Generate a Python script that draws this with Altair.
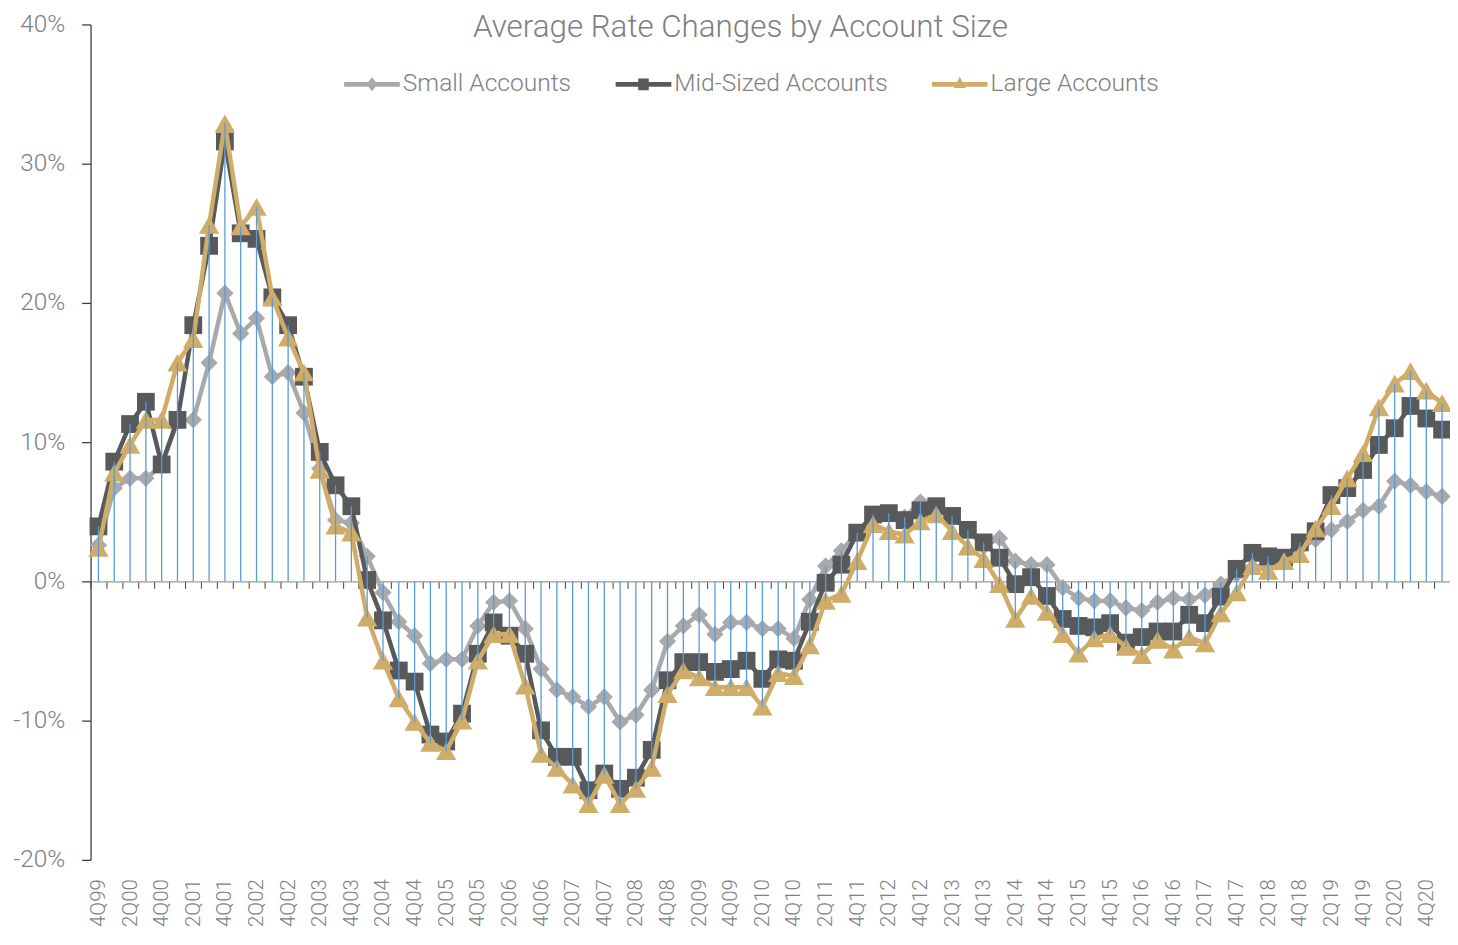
import altair as alt
import pandas as pd

quarters = ["4Q99", "1Q00", "2Q00", "3Q00", "4Q00", "1Q01", "2Q01", "3Q01", "4Q01",
            "1Q02", "2Q02", "3Q02", "4Q02", "1Q03", "2Q03", "3Q03", "4Q03",
            "1Q04", "2Q04", "3Q04", "4Q04", "1Q05", "2Q05", "3Q05", "4Q05",
            "1Q06", "2Q06", "3Q06", "4Q06", "1Q07", "2Q07", "3Q07", "4Q07",
            "1Q08", "2Q08", "3Q08", "4Q08", "1Q09", "2Q09", "3Q09", "4Q09",
            "1Q10", "2Q10", "3Q10", "4Q10", "1Q11", "2Q11", "3Q11", "4Q11",
            "1Q12", "2Q12", "3Q12", "4Q12", "1Q13", "2Q13", "3Q13", "4Q13",
            "1Q14", "2Q14", "3Q14", "4Q14", "1Q15", "2Q15", "3Q15", "4Q15",
            "1Q16", "2Q16", "3Q16", "4Q16", "1Q17", "2Q17", "3Q17", "4Q17",
            "1Q18", "2Q18", "3Q18", "4Q18", "1Q19", "2Q19", "3Q19", "4Q19",
            "1Q20", "2Q20", "3Q20", "4Q20", "1Q21"]

small = [2.6, 6.7, 7.4, 7.4, 8.3, 11.5, 11.6, 15.7, 20.7, 17.8,
         18.9, 14.7, 15.0, 12.1, 8.1, 4.4, 4.2, 1.8, -0.8, -2.9,
         -3.9, -5.9, -5.6, -5.6, -3.2, -1.5, -1.4, -3.4, -6.3, -7.8,
         -8.3, -9.0, -8.3, -10.1, -9.6, -7.8, -4.3, -3.2, -2.4, -3.8,
         -2.95, -2.95, -3.4, -3.4, -4.1, -1.3, 1.1, 2.2, 3.5, 4.6,
         4.8, 4.6, 5.7, 5.3, 4.6, 3.7, 2.5, 3.1, 1.45, 1.2,
         1.2, -0.45, -1.2, -1.4, -1.4, -1.9, -2.1, -1.5, -1.2, -1.3,
         -1.0, -0.2, 0.5, 1.0, 1.2, 1.7, 2.4, 3.0, 3.7, 4.3,
         5.1, 5.4, 7.2, 6.9, 6.45, 6.1]

mid = [3.95, 8.6, 11.3, 12.9, 8.4, 11.6, 18.4, 24.1, 31.6, 25.0,
       24.6, 20.4, 18.4, 14.7, 9.3, 6.9, 5.4, 0.1, -2.8, -6.4,
       -7.2, -11.0, -11.5, -9.5, -5.2, -2.95, -3.9, -5.2, -10.7, -12.6,
       -12.6, -15.0, -13.8, -14.9, -14.1, -12.1, -7.1, -5.8, -5.8, -6.5,
       -6.3, -5.7, -7.0, -5.6, -5.7, -2.9, -0.1, 1.2, 3.5, 4.8,
       4.9, 4.4, 5.1, 5.4, 4.7, 3.7, 2.8, 1.7, -0.2, 0.3,
       -1.05, -2.7, -3.2, -3.3, -3.0, -4.4, -4.0, -3.6, -3.6, -2.4,
       -3.0, -1.1, 0.9, 2.05, 1.8, 1.7, 2.8, 3.6, 6.2, 6.7,
       8.0, 9.8, 11.0, 12.6, 11.7, 10.9]

large = [2.4, 7.8, 9.8, 11.6, 11.6, 15.7, 17.4, 25.6, 32.9, 25.5,
         26.9, 20.4, 17.5, 15.0, 8.0, 4.0, 3.5, -2.6, -5.7, -8.4,
         -10.1, -11.6, -12.2, -10.0, -5.7, -3.8, -3.8, -7.5, -12.4, -13.4,
         -14.6, -16.0, -13.9, -16.0, -14.9, -13.4, -8.1, -6.4, -6.9, -7.6,
         -7.6, -7.6, -9.0, -6.6, -6.8, -4.6, -1.4, -0.9, 1.45, 4.1,
         3.6, 3.35, 4.3, 4.8, 3.6, 2.5, 1.6, -0.2, -2.7, -1.05,
         -2.2, -3.8, -5.2, -4.1, -3.8, -4.7, -5.3, -4.2, -4.9, -4.0,
         -4.45, -2.3, -0.8, 1.1, 0.75, 1.45, 1.95, 3.8, 5.4, 7.4,
         9.2, 12.5, 14.2, 15.1, 13.7, 12.8]

series_names = ["Small Accounts", "Mid-Sized Accounts", "Large Accounts"]
series_colors = ["#A7A9AC", "#58595B", "#CFAD69"]
marker_shapes = ["diamond", "square", "triangle-up"]
marker_sizes = [300, 320, 420]
legend_symbols = [
    "M-1,-0.085H1V0.085H-1Z M0,-0.25L0.2,0L0,0.25L-0.2,0Z",
    "M-1,-0.085H1V0.085H-1Z M-0.19,-0.21H0.19V0.21H-0.19Z",
    "M-1,-0.085H1V0.085H-1Z M0,-0.27L0.22,0.13L-0.22,0.13Z",
]

rows = []
for name, vals in zip(series_names, [small, mid, large]):
    for q, v in zip(quarters, vals):
        rows.append({"quarter": q, "series": name, "value": v})
long_df = pd.DataFrame(rows)
wide_df = pd.DataFrame({"quarter": quarters, "small": small, "mid": mid, "large": large})

TEXT = "#808080"
FONT = "Roboto"

x_axis = alt.Axis(
    title=None, orient="bottom", offset=-280, domain=True, domainColor="#9a9a9a",
    domainWidth=1.5, ticks=True, tickBand="extent", tickSize=7, tickColor="#404040",
    tickWidth=1, labelAngle=-90, labelPadding=292, labelOverlap=False,
    labelExpr="(substring(datum.label,0,1) == '2' || substring(datum.label,0,1) == '4') ? datum.label : ''",
    labelFont=FONT, labelFontSize=20.5, labelFontWeight=300, labelColor=TEXT, grid=False,
)
y_axis = alt.Axis(
    title=None, values=[-20, -10, 0, 10, 20, 30, 40], labelExpr="datum.value + '%'",
    grid=False, domainColor="#404040", domainWidth=1.3, tickColor="#404040",
    tickSize=9, tickWidth=1.3, labelPadding=17, labelFont=FONT, labelFontSize=24.5,
    labelFontWeight=300, labelColor=TEXT,
)
x_scale = alt.Scale(type="band", paddingInner=0, paddingOuter=0)
y_scale = alt.Scale(domain=[-20, 40], nice=False, zero=False)

x_enc = alt.X("quarter:N", sort=quarters, scale=x_scale, axis=x_axis)
y_enc = alt.Y("value:Q", scale=y_scale, axis=y_axis)

base = alt.Chart(long_df).encode(x=x_enc, y=y_enc)

layers = []
for name, color, shape, size in zip(series_names, series_colors, marker_shapes, marker_sizes):
    sub = base.transform_filter(alt.datum.series == name)
    layers.append(sub.mark_line(color=color, strokeWidth=4.5))
    layers.append(sub.mark_point(filled=True, opacity=1, shape=shape, size=size,
                                 color=color, strokeWidth=0))

rules = alt.Chart(wide_df).transform_calculate(
    lo="min(0, datum.small, datum.mid, datum.large)",
    hi="max(0, datum.small, datum.mid, datum.large)",
).mark_rule(color="#5B9BD5", strokeWidth=1.3).encode(
    x=x_enc,
    y=alt.Y("lo:Q", scale=y_scale, axis=y_axis),
    y2="hi:Q",
)
layers.append(rules)

leg = alt.Legend(
    title=None, orient="none", legendX=255, legendY=32, direction="horizontal",
    symbolSize=3136, symbolStrokeWidth=0, labelFont=FONT, labelFontSize=24.7,
    labelFontWeight=300, labelColor=TEXT, labelOffset=3, columnPadding=44,
    labelLimit=400, padding=0,
)
legend_layer = alt.Chart(long_df).transform_filter("false").mark_point(
    filled=True, opacity=1, strokeWidth=0
).encode(
    color=alt.Color("series:N", scale=alt.Scale(domain=series_names, range=series_colors), legend=leg),
    shape=alt.Shape("series:N", scale=alt.Scale(domain=series_names, range=legend_symbols), legend=leg),
)
layers.append(legend_layer)

chart = alt.layer(*layers).properties(
    width=1367,
    height=840,
    title=alt.TitleParams(
        "Average Rate Changes by Account Size", font=FONT, fontSize=31.5, fontWeight=300,
        color=TEXT, anchor="middle", dx=-30, dy=32, offset=0,
    ),
    autosize=alt.AutoSizeParams(type="none"),
    padding={"left": 83, "top": 14, "right": 0, "bottom": 68},
).configure(font=FONT).configure_view(stroke=None)

chart.save("out.html", embed_options={"renderer": "svg", "actions": False})
